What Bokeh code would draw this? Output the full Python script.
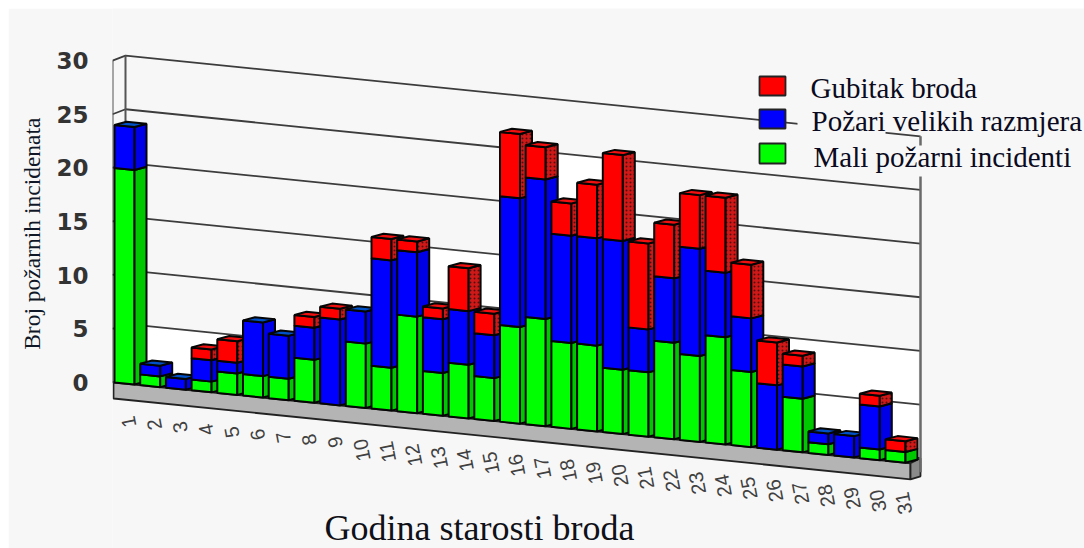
from bokeh.plotting import figure, ColumnDataSource
from bokeh.embed import file_html
from bokeh.resources import INLINE
from bokeh.core.properties import value
from bokeh.models import FixedTicker, Range1d, Title

categories = [str(i) for i in range(1, 32)]
mali = [20, 1, 0, 1, 2, 2, 2, 4, 0, 6, 4, 9, 4, 5, 4, 9, 10, 8, 8, 6, 6, 9, 8, 10, 7, 0, 5, 1, 0, 1, 1]
pozari = [4, 1, 1, 2, 1, 5, 4, 3, 8, 3, 10, 6, 5, 5, 4, 12, 13, 10, 10, 12, 4, 6, 10, 6, 5, 6, 3, 1, 2, 4, 0]
gubitak = [0, 0, 0, 1, 2, 0, 0, 1, 1, 0, 2, 1, 1, 4, 2, 6, 3, 3, 5, 8, 8, 5, 5, 7, 5, 4, 1, 0, 0, 1, 1]
y_ticks = [0, 5, 10, 15, 20, 25, 30]
legend_labels = ["Gubitak broda", "Požari velikih razmjera", "Mali požarni incidenti"]
x_title = "Godina starosti broda"
y_title = "Broj požarnih incidenata"

W, H = 1076, 540
PAD_L = 104
PITCH = 25.7      # px per category
UNIT = 10.73      # px per value unit
SLOPE = 0.1015    # screen descent per px along x
X0 = 114.0        # page px of bar 1 front-left
Y0 = 382.0        # page px of value 0 at the front-left


def X(px):   # page px -> x data
    return (px - X0) / PITCH + 1


def Y(py):   # page py -> y data
    return (Y0 - py) / UNIT


def sheared(cat, v, ox=0.0, oy=0.0):
    """screen position of value v at category position cat, with a px offset."""
    px = X0 + (cat - 1) * PITCH + ox
    py = Y0 + SLOPE * (px - X0) - v * UNIT + oy
    return px, py


p = figure(width=W, height=H, output_backend="svg", toolbar_location=None,
           x_range=Range1d(X(8 + PAD_L), X(8 + W)), y_range=Range1d(Y(8 + H), Y(8)),
           min_border_left=PAD_L, min_border_right=0, min_border_top=0, min_border_bottom=0,
           background_fill_color="#f7f7f7", border_fill_color="#f7f7f7", outline_line_color=None)
p.margin = (8, 0, 0, 8)
p.xaxis.visible = False
p.xgrid.visible = False
p.ygrid.visible = False
ax = p.yaxis[0]
ax.ticker = FixedTicker(ticks=y_ticks)
ax.axis_line_color = None
ax.major_tick_line_color = None
ax.minor_tick_line_color = None
ax.major_label_standoff = 18
ax.major_label_text_font = "DejaVu Sans"
ax.major_label_text_font_style = "bold"
ax.major_label_text_font_size = "23px"
ax.major_label_text_color = "#333333"

p.add_layout(Title(text=y_title, align="right", vertical_align="top", offset=109, standoff=13,
                   text_font="Liberation Serif", text_font_style="normal", text_font_size="23.5px",
                   text_color="#101828"), "left")

DEPTH_X, DEPTH_Y = 12.0, -3.2
FACE = 20.0
WALL_X, WALL_Y = 12.0, -5.0
END_PX = 920.0
GRID = "#3c3c3c"


def wall_y(tick, px):
    return Y0 + WALL_Y - tick * UNIT + SLOPE * (px - X0 - 11)


# white part of the back wall
steps = [(147, 5), (430, 15), (500, 25), (610, 5), (770, 10), (918, 10)]
wx, wy = [], []
for j, (a, t) in enumerate(steps[:-1]):
    b = steps[j + 1][0]
    wx += [a, b]
    wy += [wall_y(t, a) + 1, wall_y(t, b) + 1]
wx += [918, 147]
wy += [wall_y(0, 918), wall_y(0, 147)]
p.patch([X(a) for a in wx], [Y(b) for b in wy], fill_color="#ffffff", line_color=None)

# floor
FX = 910.0
fl = [(X0 - 1, Y0), (FX, Y0 + SLOPE * (FX - X0)), (END_PX, Y0 + SLOPE * (FX - X0) - 5),
      (X0 - 1 + WALL_X, Y0 + WALL_Y)]
p.patch([X(a) for a, _ in fl], [Y(b) for _, b in fl], fill_color="#b4b4b4", line_color=None)
fr = [(X0 - 1, Y0), (FX, Y0 + SLOPE * (FX - X0)), (FX, Y0 + SLOPE * (FX - X0) + 16), (X0 - 1, Y0 + 16)]
p.patch([X(a) for a, _ in fr], [Y(b) for _, b in fr], fill_color="#b4b4b4", line_color="#222222", line_width=1.8)
fs = [(FX, Y0 + SLOPE * (FX - X0)), (END_PX, Y0 + SLOPE * (FX - X0) - 5),
      (END_PX, Y0 + SLOPE * (FX - X0) + 13), (FX, Y0 + SLOPE * (FX - X0) + 16)]
p.patch([X(a) for a, _ in fs], [Y(b) for _, b in fs], fill_color="#8a8a8a", line_color="#222222", line_width=1.8)

# walls and grid lines
gx, gy = [], []
for t in y_ticks:
    left = Y0 - t * UNIT
    bx = X0 + 11
    gx.append([X(X0 - 2), X(bx), X(END_PX)])
    gy.append([Y(left), Y(wall_y(t, bx)), Y(wall_y(t, END_PX))])
p.multi_line(gx, gy, line_color=GRID, line_width=1.8)
top, base = Y0 - max(y_ticks) * UNIT, Y0
p.multi_line([[X(X0 - 2), X(X0 - 2)], [X(X0 + 11), X(X0 + 11)]],
             [[Y(top), Y(base)], [Y(top + WALL_Y), Y(base + WALL_Y)]], line_color="#555555", line_width=2)
p.line([X(END_PX), X(END_PX)], [Y(wall_y(max(y_ticks), END_PX)), Y(wall_y(0, END_PX) + 14)],
       line_color="#6a6a6a", line_width=2.5)

# legend text erases what lies behind it
p.quad(left=[X(797), X(912)], right=[X(885), X(928)], top=[Y(112), Y(145)], bottom=[Y(139), Y(176)],
       fill_color="#f7f7f7", line_color=None)

# bars, painted from left to right
FACE_C = ["#00ff00", "#0000ff", "#ff0000"]
SIDE_C = ["#00c800", "#0000e6", "#d01818"]
TOP_C = ["#00c800", "#0050c8", "#f01010"]
xs, ys, fills, hatch = [], [], [], []


def add(pts, color, hatched=" "):
    xs.append([X(a) for a, _ in pts])
    ys.append([Y(b) for _, b in pts])
    fills.append(color)
    hatch.append(hatched)


for i, cat in enumerate(categories):
    c = int(cat)
    low = 0
    last = None
    for k, vals in enumerate((mali, pozari, gubitak)):
        v = vals[i]
        if v == 0:
            continue
        hi = low + v
        a = sheared(c, low)
        b = sheared(c, low, FACE)
        d = sheared(c, hi, FACE)
        e = sheared(c, hi)
        add([a, b, d, e], FACE_C[k])
        b2 = (b[0] + DEPTH_X, b[1] + DEPTH_Y)
        d2 = (d[0] + DEPTH_X, d[1] + DEPTH_Y)
        add([b, b2, d2, d], SIDE_C[k], "." if k == 2 else " ")
        low = hi
        last = k
    e = sheared(c, low)
    d = sheared(c, low, FACE)
    add([e, d, (d[0] + DEPTH_X, d[1] + DEPTH_Y), (e[0] + DEPTH_X, e[1] + DEPTH_Y)], TOP_C[last])

src = ColumnDataSource(dict(xs=xs, ys=ys, fill=fills, hatch=hatch))
p.patches("xs", "ys", source=src, fill_color="fill", line_color="#050505", line_width=2,
          hatch_pattern="hatch", hatch_color="#501010", hatch_scale=4, hatch_weight=1)

# category labels along the sheared floor
lx = [X(127 + (int(c) - 1) * 25.8) for c in categories]
ly = [Y(416 + 0.098 * (int(c) - 1) * 25.8) for c in categories]
p.text(lx, ly, text=categories, angle=101, angle_units="deg", text_align="right", text_baseline="middle",
       text_font=value("Liberation Sans"), text_font_size="20px", text_color="#404040")

# legend
sw_top = [76, 109, 143]
sw_bot = [95, 128, 163]
p.quad(left=[X(759)] * 3, right=[X(785)] * 3, top=[Y(v) for v in sw_top], bottom=[Y(v) for v in sw_bot],
       fill_color=["#ff0000", "#0000ff", "#00ff00"], line_color="#222222", line_width=1.8)
p.text([X(810), X(811), X(813)], [Y(87), Y(120), Y(156)], text=legend_labels,
       text_font=value("Liberation Serif"), text_font_size="29px", text_color="#0a0a20",
       text_align="left", text_baseline="middle")

p.text([X(479)], [Y(527)], text=[x_title], text_font=value("Liberation Serif"), text_font_size="36px",
       text_color="#101018", text_align="center", text_baseline="middle")

open("out.html", "w").write(file_html(p, INLINE))
